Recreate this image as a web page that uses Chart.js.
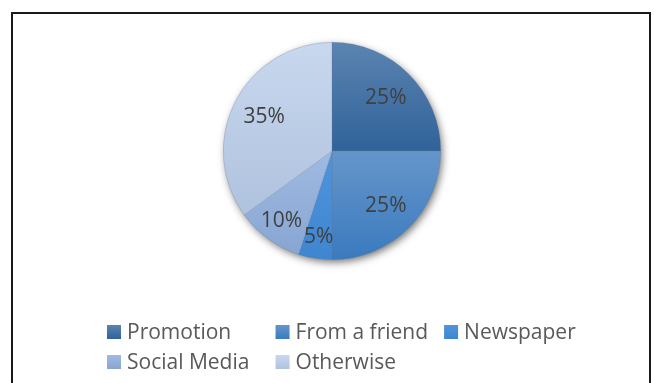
<!DOCTYPE html>
<html lang="en">
<head>
  <meta charset="UTF-8">
  <title>How customers heard about us</title>
  <style>
    html, body {
      margin: 0;
      padding: 0;
      background: #ffffff;
    }
    #pieChart {
      display: block;
    }
  </style>
</head>
<body>
  <canvas id="pieChart" width="654" height="383"></canvas>

  <script src="https://cdn.jsdelivr.net/npm/chart.js"></script>
  <script>
const sources = ['Promotion', 'From a friend', 'Newspaper', 'Social Media', 'Otherwise'];
const shares = [25, 25, 5, 10, 35];

// top / bottom colours of each slice's vertical gradient
const topColors = ['#5B84B0', '#6596CA', '#4E95DC', '#A0BBE2', '#C8D8EE'];
const bottomColors = ['#30629A', '#3B7ABF', '#3F86D0', '#88A5D2', '#AFC2DE'];

const FONT = '"Open Sans", "Liberation Sans", sans-serif';

// vertical gradient over the slice's own height
function sliceFill(ctx) {
  const chart = ctx.chart;
  const area = chart.chartArea;
  const i = ctx.dataIndex;
  if (!area) return topColors[i];
  const total = shares.reduce((a, b) => a + b, 0);
  const before = shares.slice(0, i).reduce((a, b) => a + b, 0);
  const a0 = -Math.PI / 2 + 2 * Math.PI * before / total;
  const a1 = a0 + 2 * Math.PI * shares[i] / total;
  const cy = (area.top + area.bottom) / 2;
  const r = Math.min(area.right - area.left, area.bottom - area.top) / 2;
  const ys = [cy, cy + r * Math.sin(a0), cy + r * Math.sin(a1)];
  [-Math.PI / 2, Math.PI / 2, 1.5 * Math.PI].forEach(a => {
    if (a > a0 && a < a1) ys.push(cy + r * Math.sin(a));
  });
  const g = chart.ctx.createLinearGradient(0, Math.min(...ys), 0, Math.max(...ys));
  g.addColorStop(0, topColors[i]);
  g.addColorStop(1, bottomColors[i]);
  return g;
}

// outer frame round the chart
const framePlugin = {
  id: 'frame',
  afterDraw(chart) {
    const c = chart.ctx;
    c.save();
    c.strokeStyle = '#1a1a1a';
    c.lineWidth = 2;
    c.strokeRect(12, 13, 638, 400);
    c.restore();
  }
};

// soft drop shadow under the whole pie
const shadowPlugin = {
  id: 'pieShadow',
  beforeDatasetsDraw(chart) {
    const arc = chart.getDatasetMeta(0).data[0];
    if (!arc) return;
    const c = chart.ctx;
    c.save();
    c.shadowColor = 'rgba(0,0,0,0.6)';
    c.shadowBlur = 9;
    c.shadowOffsetX = 2;
    c.shadowOffsetY = 3;
    c.fillStyle = '#ffffff';
    c.beginPath();
    c.arc(arc.x, arc.y, arc.outerRadius - 1, 0, Math.PI * 2);
    c.fill();
    c.restore();
  }
};

// percentage labels inside the slices
const valueLabels = {
  id: 'valueLabels',
  afterDatasetsDraw(chart) {
    const c = chart.ctx;
    const total = shares.reduce((a, b) => a + b, 0);
    c.save();
    c.font = '21px ' + FONT;
    c.fillStyle = '#404040';
    c.textAlign = 'center';
    c.textBaseline = 'middle';
    chart.getDatasetMeta(0).data.forEach((arc, i) => {
      const mid = (arc.startAngle + arc.endAngle) / 2;
      const frac = shares[i] / total < 0.12 ? 0.79 : 0.7;
      const r = arc.outerRadius * frac;
      c.fillText(shares[i] + '%', arc.x + Math.cos(mid) * r, arc.y + Math.sin(mid) * r + 1);
    });
    c.restore();
  }
};

// legend laid out as a grid of three columns under the pie
const gridLegend = {
  id: 'gridLegend',
  afterDraw(chart) {
    const c = chart.ctx;
    const box = 14, gap = 6, colGap = 16, cols = 3;
    const rows = [332, 362];
    c.save();
    c.font = '21px ' + FONT;
    const widths = sources.map(s => box + gap + c.measureText(s).width);
    const colW = Math.max(...widths) + colGap;
    const firstRow = (cols - 1) * colW + widths[cols - 1];
    const startX = Math.round(341 - firstRow / 2);
    c.textBaseline = 'middle';
    sources.forEach((s, i) => {
      const x = startX + (i % cols) * colW;
      const y = rows[Math.floor(i / cols)];
      const g = c.createLinearGradient(0, y - box / 2, 0, y + box / 2);
      g.addColorStop(0, topColors[i]);
      g.addColorStop(1, bottomColors[i]);
      c.fillStyle = g;
      c.fillRect(x, y - box / 2, box, box);
      c.fillStyle = '#595959';
      c.fillText(s, x + box + gap, y + 1);
    });
    c.restore();
  }
};

new Chart(document.getElementById('pieChart'), {
  type: 'pie',
  data: {
    labels: sources,
    datasets: [{
      data: shares,
      backgroundColor: sliceFill,
      borderColor: 'rgba(100,120,150,0.45)',
      borderWidth: 0.6
    }]
  },
  options: {
    responsive: false,
    animation: false,
    devicePixelRatio: 1,
    layout: {
      padding: { left: 223, right: 213, top: 42, bottom: 123 }
    },
    plugins: {
      legend: { display: false },
      tooltip: { enabled: false },
      title: { display: false }
    }
  },
  plugins: [shadowPlugin, valueLabels, gridLegend, framePlugin]
});
  </script>
</body>
</html>
